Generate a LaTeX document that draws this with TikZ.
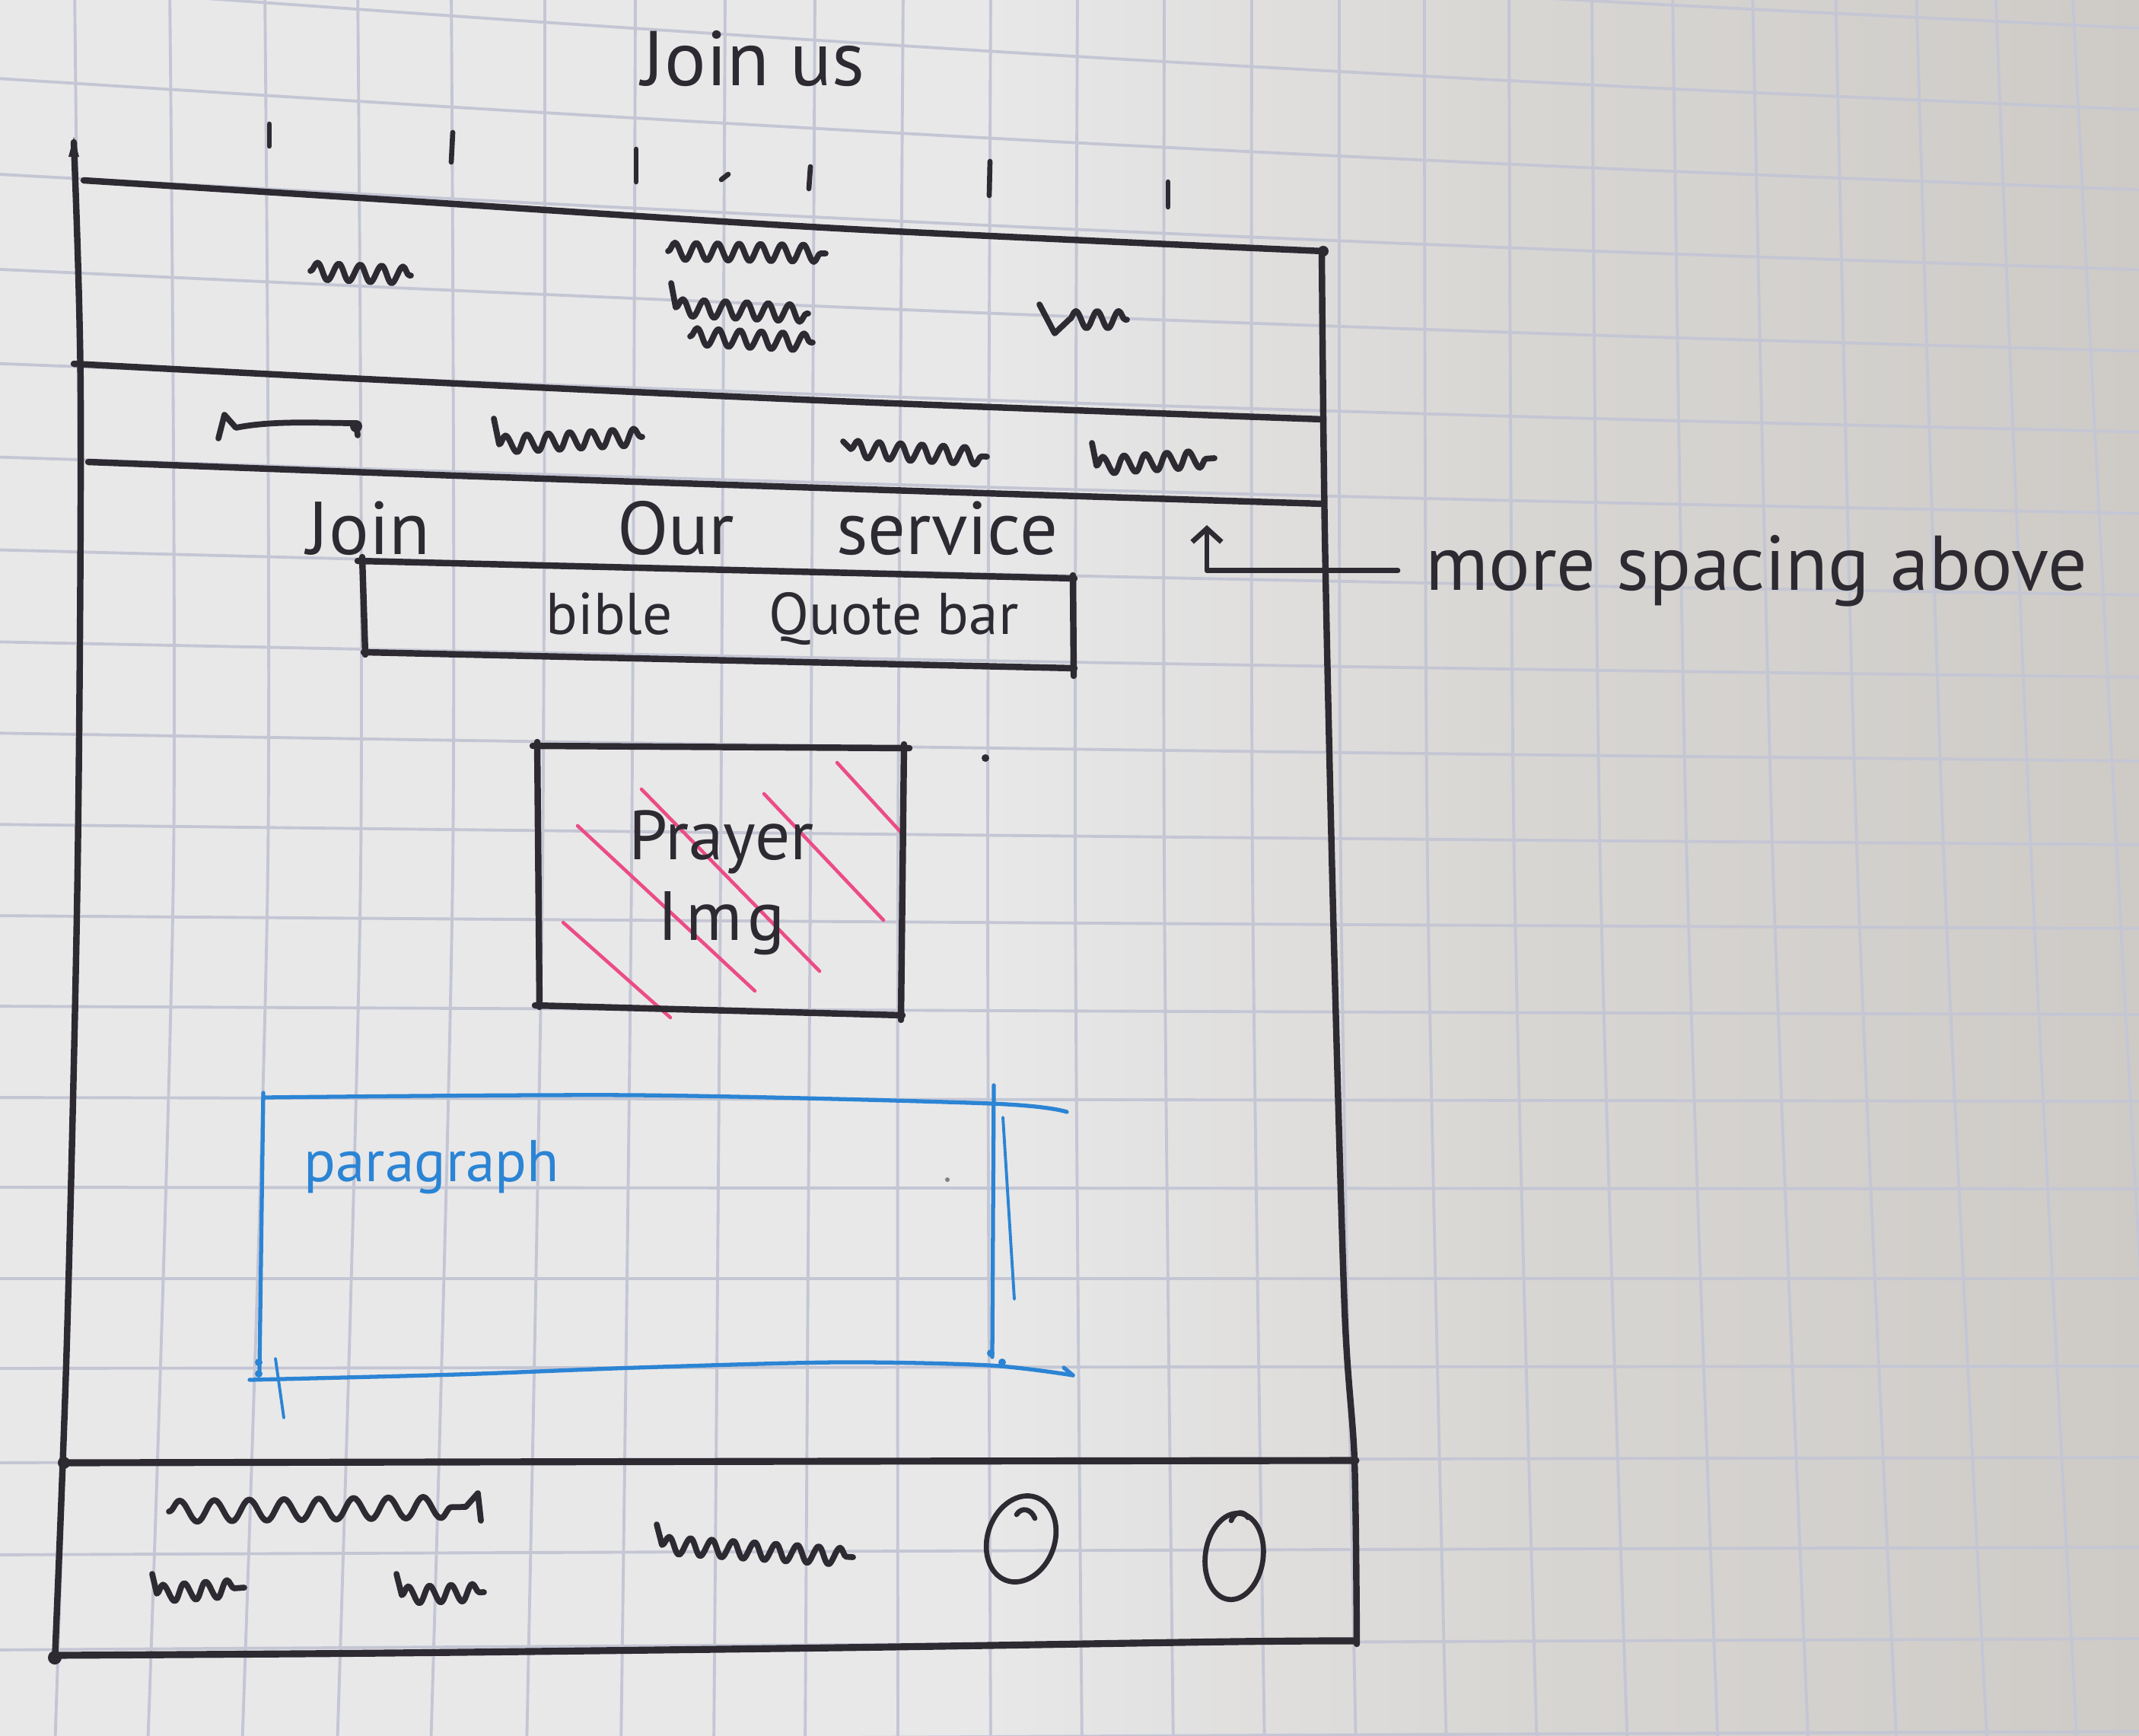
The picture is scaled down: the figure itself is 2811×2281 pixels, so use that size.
\documentclass[tikz,border=0pt]{standalone}
\usepackage{fontspec}
\setmainfont{PT Sans}
\usetikzlibrary{decorations.pathmorphing, arrows.meta}

\definecolor{inkc}{RGB}{45,42,50}
\definecolor{bluec}{RGB}{43,132,212}
\definecolor{pinkc}{RGB}{236,76,134}
\definecolor{gridc}{RGB}{196,198,212}
\definecolor{paperA}{RGB}{232,232,233}
\definecolor{paperB}{RGB}{216,214,211}
\definecolor{paperC}{RGB}{206,203,199}

\begin{document}
\begin{tikzpicture}[x=0.01cm, y=-0.01cm,
  gridline/.style={draw=gridc, line width=1.1pt},
  ink/.style={draw=inkc, line width=2.4pt, line cap=round, line join=round},
  thinink/.style={draw=inkc, line width=1.9pt, line cap=round, line join=round},
  scribble/.style={draw=inkc, line width=2.2pt, line cap=round, line join=round,
    decoration={snake, amplitude=3.2pt, segment length=8pt}},
  bigscribble/.style={scribble, decoration={snake, amplitude=4pt, segment length=13pt}},
  hatch/.style={draw=pinkc, line width=1.3pt, line cap=round},
  blueink/.style={draw=bluec, line width=1.5pt, line cap=round, line join=round},
  hand/.style={text=inkc, inner sep=0pt}]

\useasboundingbox (0,0) rectangle (2811,2281);

% paper
\fill[paperA] (0,0) rectangle (1301,2281);
\shade[left color=paperA, right color=paperB] (1300,0) rectangle (2001,2281);
\shade[left color=paperB, right color=paperC] (2000,0) rectangle (2811,2281);

% squared paper grid
\begin{scope}
\clip (0,0) rectangle (2811,2281);
\foreach \t/\m/\b in {98/104/72, 223/228/194, 348/352/318, 470/474/443, 593/595/566,
  716/713/692, 835/830/816, 953/947/938, 1071/1065/1058, 1187/1180/1180,
  1302/1298/1302, 1416/1413/1422, 1530/1530/1542, 1645/1646/1662, 1760/1762/1782,
  1872/1876/1901, 1983/1990/2020, 2092/2103/2139, 2198/2217/2258, 2303/2330/2377,
  2412/2441/2493, 2518/2555/2612, 2622/2670/2730, 2723/2783/2848}
  \draw[gridline] plot[smooth] coordinates {(\t,-20) (\m,1140) (\b,2300)};
\foreach \l/\r in {-148/38, -23/145, 102/250, 228/355, 353/462, 477/568, 600/675,
  722/782, 843/890, 963/1000, 1083/1110, 1203/1220, 1322/1333, 1442/1447,
  1560/1562, 1680/1680, 1798/1795, 1922/1915, 2043/2033, 2168/2153, 2290/2275}
{
  \pgfmathsetmacro\ya{\l+0.306*(\r-\l)}
  \pgfmathsetmacro\yb{\l+0.575*(\r-\l)}
  \pgfmathsetmacro\yc{\l+0.806*(\r-\l)}
  \draw[gridline] plot[smooth] coordinates {(-20,\l) (703,\ya) (1405,\yb) (2108,\yc) (2830,\r)};
}
\end{scope}

% page frame
\draw[ink] plot[smooth] coordinates {(97,187) (106,520) (102,1140) (88,1760) (72,2183)};
\fill[inkc] (97,180) -- (104,206) -- (90,206) -- cycle;
\draw[ink] plot[smooth] coordinates {(1737,328) (1741,700) (1752,1200) (1767,1720) (1780,1919) (1783,2160)};
\draw[ink] plot[smooth] coordinates {(110,237) (520,263) (1100,300) (1739,330)};
\fill[inkc] (1739,330) circle (7);
\draw[ink] plot[smooth] coordinates {(97,478) (520,500) (1100,527) (1739,551)};
\draw[ink] plot[smooth] coordinates {(116,607) (600,625) (1200,645) (1739,662)};
\draw[ink, line width=2.6pt] plot[smooth] coordinates {(83,1922) (1100,1920) (1782,1919)};
\draw[ink, line width=2.6pt] plot[smooth] coordinates {(70,2175) (509,2172) (1100,2165) (1620,2157) (1782,2156)};
\fill[inkc] (84,1922) circle (8);
\fill[inkc] (72,2178) circle (9);

% navigation ticks
\draw[thinink] (354,163) -- (354,192);
\draw[thinink] (595,174) -- (593,213);
\draw[thinink] (836,196) -- (836,239);
\draw[thinink] (948,236) -- (957,229);
\draw[thinink] (1065,219) -- (1063,248);
\draw[thinink] (1301,212) -- (1300,257);
\draw[thinink] (1535,239) -- (1535,272);

% header scribbles
\draw[scribble, decorate] (408,356) -- (540,362);
\draw[scribble, decorate] (878,330) -- (1085,333);
\draw[scribble] (882,372) -- (888,404) decorate {-- (1062,412)};
\draw[scribble, decorate] (907,442) -- (1068,450);
\draw[scribble] (1366,400) -- (1386,438) -- (1405,420) decorate {-- (1481,420)};

% menu scribbles
\draw[scribble] (287,576) -- (295,545) -- (310,562) .. controls (360,552) and (420,556) .. (468,556) -- (470,572);
\fill[inkc] (468,560) circle (8);
\draw[scribble] (649,550) -- (656,584) decorate {-- (844,574)};
\draw[scribble] (1108,580) -- (1118,590) decorate {-- (1297,600)};
\draw[scribble] (1435,582) -- (1441,612) decorate {-- (1596,602)};

% heading and note
\node[hand, font=\fontsize{29}{34}\selectfont, anchor=base] (title) at (990,112) {Join us};
\node[hand, font=\fontsize{28}{32}\selectfont, anchor=base west] (heading) at (403,728)
  {Join\hspace{70pt}Our\hspace{38pt}service};
\node[hand, font=\fontsize{29}{34}\selectfont, anchor=base west] (note) at (1873,775) {more spacing above};
\coordinate (gap) at (1586,690);
\draw[thinink, -{Straight Barb[length=5pt,width=11pt]}] ([xshift=-0.36cm]note.west) -| (gap);

% quote bar
\draw[ink] (470,737) -- (1412,760);
\draw[ink] (476,732) -- (480,860);
\draw[ink] (478,857) -- (1412,878);
\draw[ink] (1410,756) -- (1411,888);
\node[hand, font=\fontsize{22}{26}\selectfont, anchor=base west] (quote) at (717,833)
  {bible\hspace{36pt}Quote bar};

% image placeholder
\draw[hatch] (759,1085) -- (992,1302);
\draw[hatch] (843,1037) -- (1077,1276);
\draw[hatch] (1004,1043) -- (1161,1209);
\draw[hatch] (1100,1002) -- (1188,1098);
\draw[hatch] (740,1212) -- (881,1337);
\draw[ink] (700,980) -- (1195,983);
\draw[ink] (706,975) -- (709,1323);
\draw[ink] (703,1321) -- (1186,1334);
\draw[ink] (1188,978) -- (1184,1340);
\fill[inkc] (1295,996) circle (5);
\node[hand, font=\fontsize{26}{30}\selectfont, align=center] (prayer) at (948,1160) {Prayer\\I\kern3pt m\kern2pt g};

% paragraph block
\draw[blueink] plot[smooth] coordinates {(346,1442) (836,1439) (1302,1450) (1402,1461)};
\draw[blueink] (346,1436) -- (341,1800);
\fill[bluec] (340,1790) circle (5);
\fill[bluec] (340,1805) circle (5);
\draw[blueink, line width=1.1pt] (362,1785) -- (373,1863);
\draw[blueink] plot[smooth] coordinates {(328,1813) (600,1806) (836,1797) (1100,1790) (1300,1794) (1410,1807)};
\draw[blueink] (1410,1807) -- (1398,1797);
\draw[blueink] (1306,1426) -- (1304,1783);
\draw[blueink, line width=1.1pt] (1318,1468) -- (1333,1707);
\fill[bluec] (1302,1778) circle (5);
\fill[bluec] (1317,1790) circle (5);
\fill[inkc!60] (1245,1550) circle (3);
\node[hand, text=bluec, font=\fontsize{22}{26}\selectfont, anchor=base west] (para) at (399,1552) {paragraph};

% footer scribbles and icons
\draw[bigscribble] (222,1986) decorate {-- (612,1980)} -- (628,1962) -- (632,1998);
\draw[scribble] (200,2068) -- (206,2094) decorate {-- (321,2086)};
\draw[scribble] (521,2068) -- (528,2096) decorate {-- (636,2092)};
\draw[scribble] (863,2003) -- (870,2030) decorate {-- (1121,2046)};
\draw[thinink, rotate around={-20:(1342,2022)}] (1342,2022) ellipse [x radius=44, y radius=58];
\draw[thinink] (1360,1995) .. controls (1355,1982) and (1342,1980) .. (1336,1990);
\draw[thinink, rotate around={-8:(1622,2045)}] (1622,2045) ellipse [x radius=38, y radius=57];
\draw[thinink] (1640,1994) .. controls (1634,1984) and (1622,1986) .. (1618,1998);

\end{tikzpicture}
\end{document}
